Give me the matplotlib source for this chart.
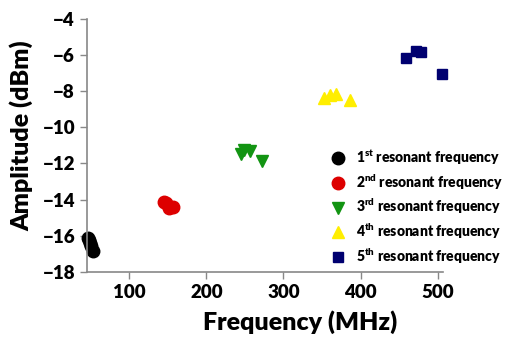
import matplotlib
matplotlib.use('Agg')
import matplotlib.pyplot as plt

plt.rcParams['font.family'] = ['Lato', 'DejaVu Sans']
plt.rcParams['font.weight'] = 'heavy'
plt.rcParams['mathtext.fontset'] = 'custom'
plt.rcParams['mathtext.rm'] = 'Lato:heavy'
plt.rcParams['mathtext.it'] = 'Lato:heavy'
plt.rcParams['mathtext.bf'] = 'Lato:heavy'

# frequency (MHz) and amplitude (dBm) for each resonance
f1 = [47, 48, 49, 50, 53]
a1 = [-16.1, -16.25, -16.4, -16.55, -16.85]
f2 = [145, 148, 151, 157]
a2 = [-14.15, -14.2, -14.45, -14.4]
f3 = [245, 249, 256, 272]
a3 = [-11.45, -11.25, -11.3, -11.85]
f4 = [352, 360, 368, 386]
a4 = [-8.4, -8.2, -8.15, -8.5]
f5 = [459, 472, 479, 506]
a5 = [-6.15, -5.75, -5.85, -7.05]

labels = ['1$^{st}$ resonant frequency', '2$^{nd}$ resonant frequency',
          '3$^{rd}$ resonant frequency', '4$^{th}$ resonant frequency',
          '5$^{th}$ resonant frequency']

fig = plt.figure(figsize=(5.14, 3.39), dpi=100)
ax = fig.add_axes([0.169, 0.198, 0.693, 0.746])

ax.plot(f1, a1, 'o', color='black', markersize=9, label=labels[0], clip_on=False)
ax.plot(f2, a2, 'o', color='#DD0000', markersize=9, label=labels[1], clip_on=False)
ax.plot(f3, a3, 'v', color='#129412', markersize=9, label=labels[2], clip_on=False)
ax.plot(f4, a4, '^', color='#FFEE00', markersize=9, label=labels[3], clip_on=False)
ax.plot(f5, a5, 's', color='#000070', markersize=7, label=labels[4], clip_on=False)

ax.set_xlim(45, 507)
ax.set_ylim(-18, -4)
ax.set_xticks([100, 200, 300, 400, 500])
ax.set_yticks(range(-18, -3, 2))

for s in ['top', 'right']:
    ax.spines[s].set_visible(False)
for s in ['left', 'bottom']:
    ax.spines[s].set_color('#888888')
    ax.spines[s].set_linewidth(1.2)
ax.tick_params(color='#888888', length=5, width=1, labelsize=13.5, direction='out')
for t in ax.get_xticklabels() + ax.get_yticklabels():
    t.set_fontweight('heavy')

ax.set_xlabel('Frequency (MHz)', fontsize=18, fontweight='heavy')
ax.set_ylabel('Amplitude (dBm)', fontsize=18, fontweight='heavy')
ax.xaxis.set_label_coords(0.6, -0.15)
ax.yaxis.set_label_coords(-0.15, 0.54)

ax.legend(loc='upper left', bbox_to_anchor=(324 / 514, 1 - 148 / 339),
          bbox_transform=fig.transFigure, frameon=False, borderpad=0,
          borderaxespad=0, fontsize=10, labelspacing=0.38,
          handlelength=2.0, handletextpad=0.3, markerscale=1.0)

fig.savefig('out.png', dpi=100)
